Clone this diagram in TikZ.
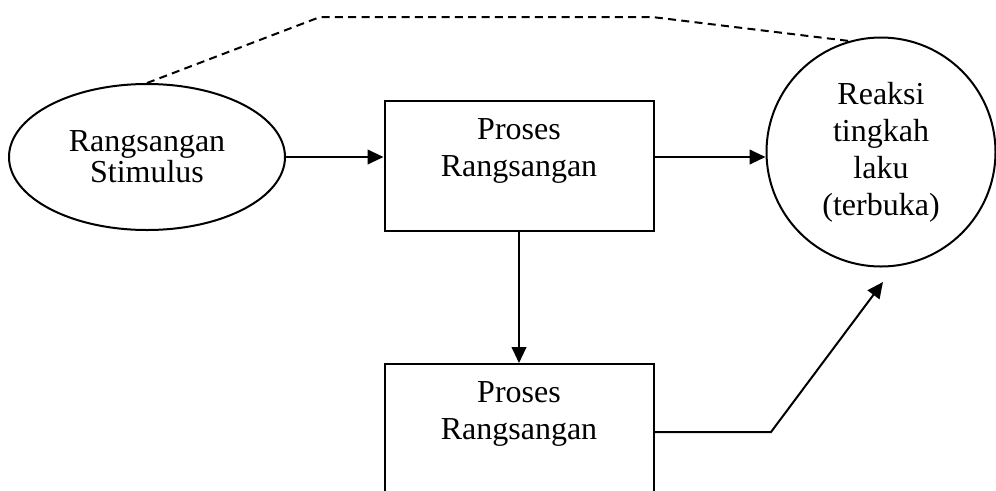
\documentclass[tikz,border=0pt]{standalone}
\usepackage{fontspec}
\setmainfont{Liberation Serif}
\usetikzlibrary{shapes.geometric,arrows.meta}
\begin{document}
\begin{tikzpicture}[x=0.75pt,y=-0.75pt,
  every node/.style={font=\fontsize{24}{27.75}\selectfont, align=center, inner sep=0pt},
  shapeline/.style={draw, line width=1.5pt},
  oval/.style={shapeline, ellipse, minimum width=207pt, minimum height=109.5pt},
  procbox/.style={shapeline, rectangle, minimum width=201.75pt, minimum height=97.5pt},
  roundnode/.style={shapeline, circle, minimum size=171.75pt},
  conn/.style={line width=1.5pt, -{Triangle[length=12pt,width=11pt]}},
  dashconn/.style={line width=1.5pt, dash pattern=on 6pt off 4pt}
]
\useasboundingbox (0,0) rectangle (996,490);
\node[oval, font=\fontsize{24}{23.5}\selectfont] (e) at (147,157) {Rangsangan\\Stimulus};
\node[procbox] (b1) at (519,166) {Proses\\Rangsangan\\\mbox{}};
\node[procbox] (b2) at (519,429) {Proses\\Rangsangan\\\mbox{}};
\node[roundnode] (c) at (881,152) {Reaksi\\tingkah\\laku\\(terbuka)};
\coordinate (d1) at (320,17);
\coordinate (d2) at (652,17);
\coordinate (k) at (771,432);
\coordinate (t) at (883,282);
\draw[conn] (e.east) -- (e.east -| b1.west);
\draw[conn] (e.east -| b1.east) -- (e.east -| c.west);
\draw[conn] (b1.south) -- (b2.north);
\draw[conn] (b2.east |- k) -- (k) -- (t);
\draw[dashconn] (e.north) -- (d1) -- (d2) -- (c.106);
\end{tikzpicture}
\end{document}
